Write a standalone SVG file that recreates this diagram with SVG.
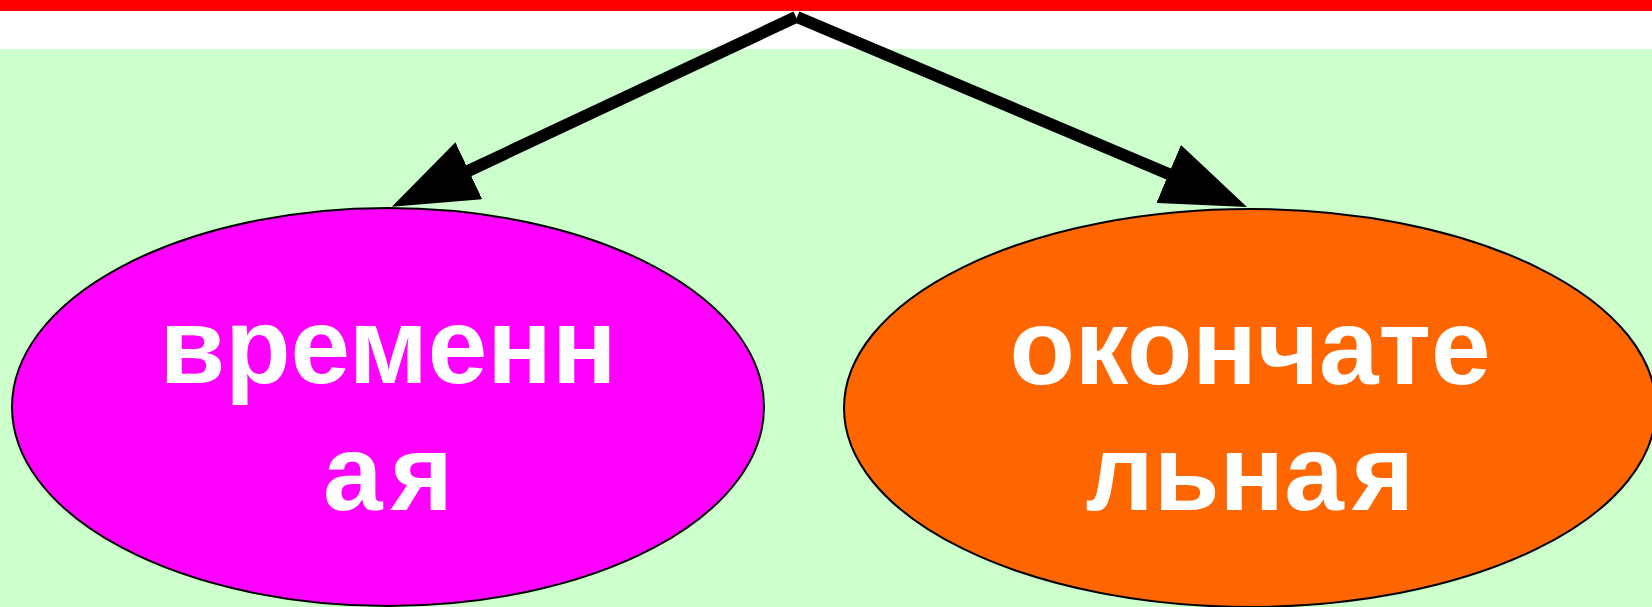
<svg xmlns="http://www.w3.org/2000/svg" width="1652" height="607" viewBox="0 0 1652 607">
<style>
.node{stroke:#000;stroke-width:2}
.lbl{font-family:"Liberation Sans",Arial,sans-serif;font-weight:bold;font-size:107px;fill:#fff;text-anchor:middle}
.edge{stroke:#000;stroke-width:12;fill:none}
</style>
<defs>
<marker id="ah" markerUnits="userSpaceOnUse" viewBox="0 0 85 63" refX="2" refY="31.5" markerWidth="85" markerHeight="63" orient="auto">
<path d="M0,0 L85,31.5 L0,63 z" fill="#000"/>
</marker>
</defs>
<rect x="0" y="0" width="1652" height="607" fill="#CCFFCC"/>
<rect x="0" y="11" width="1652" height="38" fill="#FFFFFF"/>
<rect x="0" y="0" width="1652" height="11" fill="#FF0000"/>
<g id="node-left">
<ellipse class="node" cx="388" cy="407" rx="376" ry="199" fill="#FF00FF"/>
<text class="lbl" x="388" y="383">временн</text>
<text class="lbl" x="388" y="510">а<tspan dx="8">я</tspan></text>
</g>
<g id="node-right">
<ellipse class="node" cx="1250" cy="408" rx="406" ry="199" fill="#FF6600"/>
<text class="lbl" x="1250" y="384">окончате</text>
<text class="lbl" x="1250" y="510">льна<tspan dx="8">я</tspan></text>
</g>
<g id="connectors">
<path class="edge" d="M796,17 L467,171.5" marker-end="url(#ah)"/>
<path class="edge" d="M797,17 L1170.5,174.7" marker-end="url(#ah)"/>
</g>
</svg>
